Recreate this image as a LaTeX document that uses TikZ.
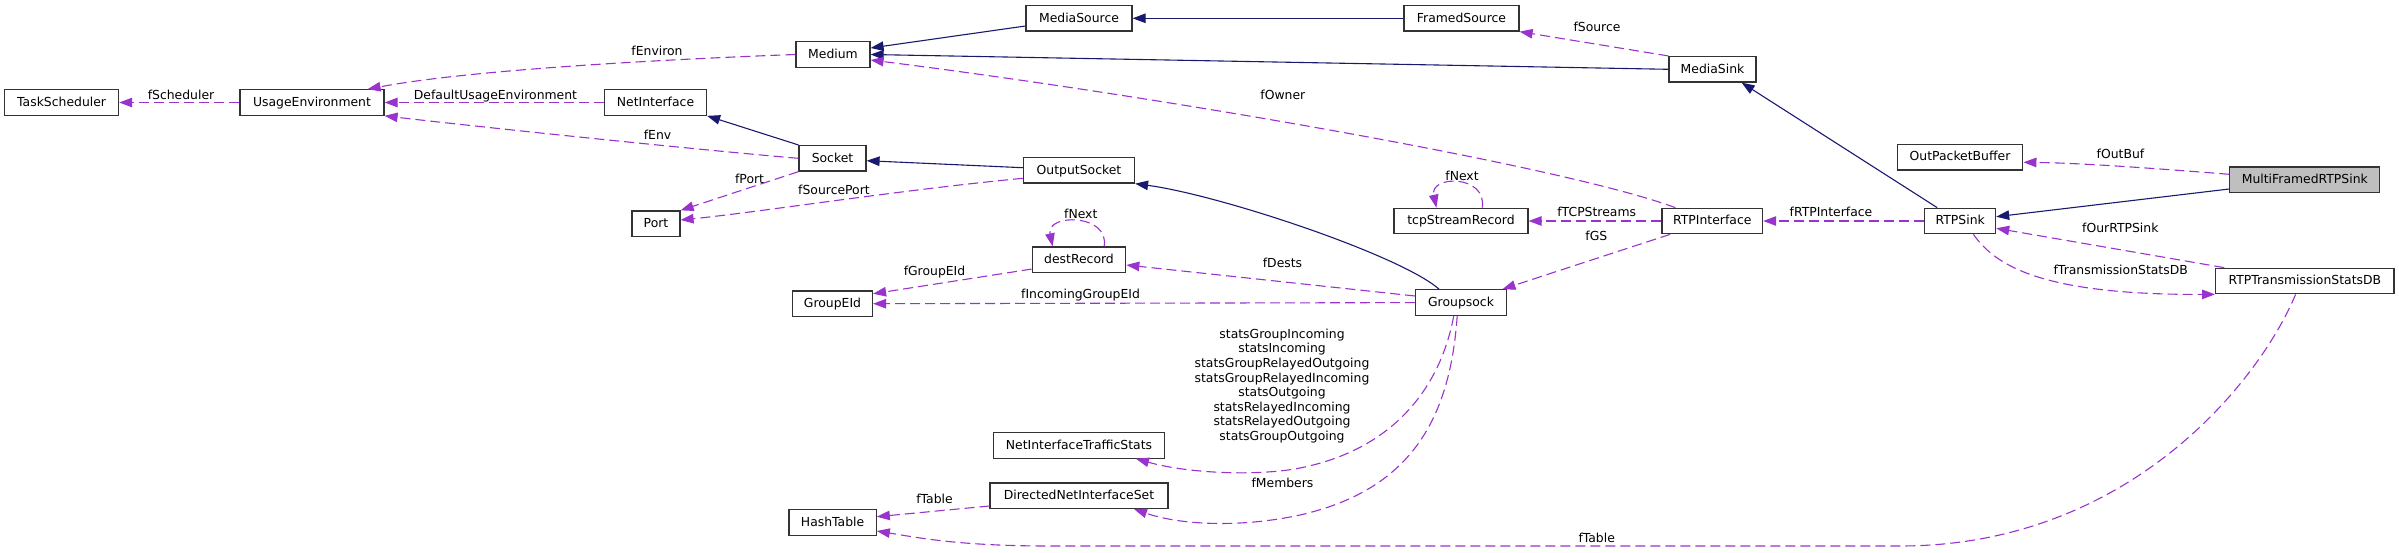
\documentclass[tikz,border=0pt]{standalone}
\usepackage{fontspec}
\setmainfont{DejaVu Sans}
\usetikzlibrary{arrows.meta}
\definecolor{depc}{HTML}{9A32CD}
\definecolor{inhc}{HTML}{191970}
\definecolor{selc}{HTML}{BFBFBF}
\begin{document}
\begin{tikzpicture}[x=1pt,y=-1pt,
  every node/.style={font=\fontsize{12.4}{14.6}\selectfont},
  cls/.style={draw=black!80, line width=1.2pt, fill=white, inner sep=0pt, minimum height=25.5pt, text height=9.5pt, text depth=2pt},
  lbl/.style={inner sep=0pt, text height=9pt, text depth=0pt},
  lblm/.style={inner sep=0pt, align=center},
  dep/.style={draw=depc, line width=1.1pt, dash pattern=on 10pt off 5pt, -{Triangle[length=13pt,width=9.5pt]}},
  inh/.style={draw=inhc, line width=1.1pt, -{Triangle[length=13pt,width=9.5pt]}}
]
\useasboundingbox (0,0) rectangle (2399,552);
% classes
\node[cls, minimum width=114pt] (TS) at (61.6,102.5) {TaskScheduler};
\node[cls, minimum width=144pt] (UE) at (312,102.5) {UsageEnvironment};
\node[cls, minimum width=74pt] (Med) at (833,54.5) {Medium};
\node[cls, minimum width=106pt] (MS) at (1079,18.3) {MediaSource};
\node[cls, minimum width=115pt] (FS) at (1461.5,18.3) {FramedSource};
\node[cls, minimum width=87pt] (MSink) at (1712.5,69.3) {MediaSink};
\node[cls, minimum width=102pt] (NI) at (655.5,102.5) {NetInterface};
\node[cls, minimum width=67pt] (Sock) at (832.5,158.3) {Socket};
\node[cls, minimum width=111pt] (OS) at (1079,170.3) {OutputSocket};
\node[cls, minimum width=48pt] (Port) at (656,223.7) {Port};
\node[cls, minimum width=93.5pt] (DR) at (1079,259.7) {destRecord};
\node[cls, minimum width=80pt] (GE) at (832.5,303.8) {GroupEId};
\node[cls, minimum width=134pt] (TCP) at (1461,221) {tcpStreamRecord};
\node[cls, minimum width=100.6pt] (RI) at (1712.3,221) {RTPInterface};
\node[cls, minimum width=90.7pt] (GS) at (1461,302.5) {Groupsock};
\node[cls, minimum width=125.7pt] (OPB) at (1960,157.2) {OutPacketBuffer};
\node[cls, minimum width=150pt, fill=selc] (MF) at (2304.8,179.8) {MultiFramedRTPSink};
\node[cls, minimum width=70.8pt] (RS) at (1960.2,221) {RTPSink};
\node[cls, minimum width=178.4pt] (RDB) at (2304.8,281) {RTPTransmissionStatsDB};
\node[cls, minimum width=170.7pt] (NITS) at (1079,445.4) {NetInterfaceTrafficStats};
\node[cls, minimum width=178pt] (DNIS) at (1079,495.7) {DirectedNetInterfaceSet};
\node[cls, minimum width=87.3pt] (HT) at (832.6,522.5) {HashTable};
% inheritance
\draw[inh] ([yshift=-7.7pt]MS.west) -- ([yshift=6.5pt]Med.east);
\draw[inh] (FS) -- (MS);
\draw[inh] (MSink.west) -- (Med.east);
\draw[inh] (Sock.north west) -- (NI.south east);
\draw[inh] ([yshift=2.6pt]OS.west) -- ([yshift=-2.4pt]Sock.east);
\draw[inh] ([xshift=24pt]GS.north west) .. controls (1400,255) and (1220,195) .. (OS.south east);
\draw[inh] ([xshift=13pt]RS.north west) -- ([xshift=-15pt]MSink.south east);
\draw[inh] ([yshift=-9.2pt]MF.west) -- ([yshift=4.3pt]RS.east);
% usage
\draw[dep] (UE) -- (TS);
\draw[dep] (Med.west) .. controls (700,58) and (480,68) .. ([xshift=-17pt]UE.north east);
\draw[dep] (NI) -- (UE);
\draw[dep] (Sock.west) .. controls (700,150) and (480,127) .. (UE.south east);
\draw[dep] (MSink.north west) -- (FS.south east);
\draw[dep] ([xshift=14pt]RI.north west) .. controls (1560,165) and (1150,95) .. ([yshift=-5.5pt]Med.east);
\draw[dep] (Sock.south west) -- (Port.north east);
\draw[dep] ([yshift=-8pt]OS.west) .. controls (900,190) and (760,212) .. ([yshift=3.7pt]Port.east);
\draw[dep] ([xshift=72.5pt]DR.north west) .. controls ([xshift=78pt,yshift=33pt]DR.north west) and ([xshift=14pt,yshift=33pt]DR.north west) .. ([xshift=21pt]DR.north west);
\draw[dep] ([yshift=4pt]DR.south west) -- ([yshift=-3.3pt]GE.north east);
\draw[dep] ([yshift=6.5pt]GS.west) -- ([yshift=-5.3pt]DR.east);
\draw[dep] (GS) -- (GE);
\draw[dep] ([xshift=8.7pt]RI.south west) -- ([xshift=-4.5pt]GS.north east);
\draw[dep] (RI) -- (TCP);
\draw[dep] ([xshift=88.8pt]TCP.north west) .. controls ([xshift=94pt,yshift=33pt]TCP.north west) and ([xshift=36pt,yshift=33pt]TCP.north west) .. ([xshift=43pt]TCP.north west);
\draw[dep] (RS) -- (RI);
\draw[dep] ([yshift=5.5pt]MF.west) .. controls (2150,168) and (2080,163) .. ([yshift=-5.1pt]OPB.east);
\draw[dep] ([xshift=9.2pt]RDB.north west) -- ([yshift=-7.3pt]RS.east);
\draw[dep] ([xshift=49.2pt]RS.south west) .. controls (1995,265) and (2040,295) .. (RDB.south west);
\draw[dep] ([xshift=-9.2pt]RDB.south) .. controls (2260,380) and (2130,546) .. (1900,546) -- (1050,546) .. controls (960,546) and (920,538) .. ([yshift=-8.5pt]HT.east);
\draw[dep] ([yshift=-10.3pt]DNIS.west) -- ([yshift=5.8pt]HT.east);
\draw[dep] ([xshift=-7.3pt]GS.south) .. controls (1442,380) and (1400,448) .. (1300,468) .. controls (1260,476) and (1190,474) .. ([xshift=57pt]NITS.south);
\draw[dep] ([xshift=-3.8pt]GS.south) .. controls (1450,420) and (1410,490) .. (1300,515) .. controls (1240,528) and (1180,525) .. ([xshift=55pt]DNIS.south);
% labels
\node[lbl] (l1) at (181,94.7) {fScheduler};
\node[lbl] (l2) at (495.5,94.7) {DefaultUsageEnvironment};
\node[lbl] (l3) at (657,50.7) {fEnviron};
\node[lbl] (l4) at (657.5,134.7) {fEnv};
\node[lbl] (l5) at (749.6,179.3) {fPort};
\node[lbl] (l6) at (834,190.3) {fSourcePort};
\node[lbl] (l7) at (1080.8,214.3) {fNext};
\node[lbl] (l8) at (934.5,271) {fGroupEId};
\node[lbl] (l9) at (1080.5,294.3) {fIncomingGroupEId};
\node[lbl] (l10) at (1597,27.3) {fSource};
\node[lbl] (l11) at (1282.8,94.7) {fOwner};
\node[lbl] (l12) at (1462,175.7) {fNext};
\node[lbl] (l13) at (1596.7,212.3) {fTCPStreams};
\node[lbl] (l14) at (1596.3,236.3) {fGS};
\node[lbl] (l15) at (1282.5,262.7) {fDests};
\node[lbl] (l16) at (2120.5,154) {fOutBuf};
\node[lbl] (l17) at (1831,212) {fRTPInterface};
\node[lbl] (l18) at (2120.3,228.3) {fOurRTPSink};
\node[lbl] (l19) at (2120.7,270) {fTransmissionStatsDB};
\node[lblm] (l20) at (1282,386) {statsGroupIncoming\\statsIncoming\\statsGroupRelayedOutgoing\\statsGroupRelayedIncoming\\statsOutgoing\\statsRelayedIncoming\\statsRelayedOutgoing\\statsGroupOutgoing};
\node[lbl] (l21) at (1282.5,483.3) {fMembers};
\node[lbl] (l22) at (934.5,499.3) {fTable};
\node[lbl] (l23) at (1596.7,538.3) {fTable};
\end{tikzpicture}
\end{document}
